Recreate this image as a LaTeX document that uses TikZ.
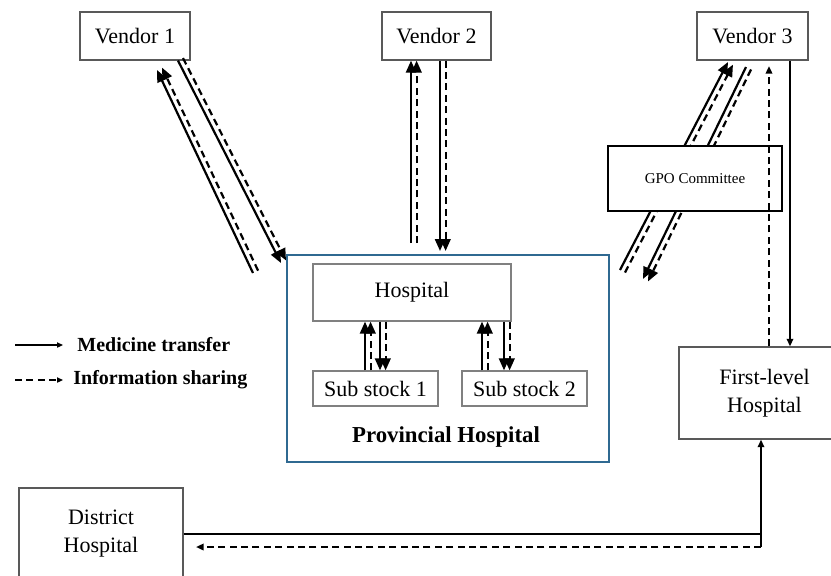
\documentclass[tikz,border=0pt]{standalone}
\usepackage{fontspec}
\setmainfont{Liberation Serif}
\usetikzlibrary{arrows.meta,calc}
\definecolor{provblue}{RGB}{47,105,145}
\newcommand\sepd{2.8pt}
\newcommand\uppair[2]{%
  \draw[med,bigtip] (#1) -- (#2);
  \draw[info,bigtip] ($(#1)!\sepd!-90:(#2)$) -- ($(#2)!\sepd!90:(#1)$);}
\newcommand\downpair[2]{%
  \draw[med,bigtip] (#1) -- (#2);
  \draw[info,bigtip] ($(#1)!\sepd!90:(#2)$) -- ($(#2)!\sepd!-90:(#1)$);}
\begin{document}
\begin{tikzpicture}[x=0.5pt,y=-0.5pt,
  med/.style={line width=1.1pt,black},
  info/.style={line width=1.1pt,black,dash pattern=on 3.5pt off 2.2pt},
  bigtip/.style={-{Triangle[length=6pt,width=5pt]}},
  midtip/.style={-{Triangle[length=3.8pt,width=3.2pt]}},
  smalltip/.style={-{Triangle[length=3pt,width=2.6pt]}},
  box/.style={draw=black!65,line width=0.6pt,fill=white,inner sep=0pt,align=center,
    font=\fontsize{11}{14}\selectfont},
  legend/.style={anchor=west,inner sep=0pt,font=\bfseries\fontsize{10}{12}\selectfont}]
\useasboundingbox (0,0) rectangle (831,575);

% nodes
\node[box,minimum width=55pt,minimum height=24pt] (v1) at (135,36) {Vendor 1};
\node[box,minimum width=54.5pt,minimum height=24pt] (v2) at (436.5,36) {Vendor 2};
\node[box,minimum width=55.5pt,minimum height=24pt] (v3) at (752.5,36) {Vendor 3};
\node[draw=provblue,line width=1.1pt,minimum width=161pt,minimum height=103.5pt,inner sep=0pt] (prov) at (448,358.5) {};
\node[box,draw=black!50,minimum width=99pt,minimum height=28.5pt] (hosp) at (412,292.5) {Hospital};
\node[box,draw=black!50,minimum width=62.5pt,minimum height=17.5pt] (ss1) at (375.5,388.5) {Sub stock 1};
\node[box,draw=black!50,minimum width=62.5pt,minimum height=17.5pt] (ss2) at (524.5,388.5) {Sub stock 2};
\node[font=\bfseries\fontsize{11.4}{13}\selectfont] (provlabel) at (446,437) {Provincial Hospital};
\node[box,minimum width=85.5pt,minimum height=46pt] (first) at (764.5,393) {First-level\\Hospital};
\node[box,minimum width=82pt,minimum height=46pt] (dist) at (101,534) {District\\Hospital};

% legend
\node[legend] (legmed) at (77,345) {Medicine transfer};
\node[legend] (leginfo) at (73,380) {Information sharing};
\coordinate (lm0) at (15,345);
\coordinate (li0) at (15,380);
\draw[med,smalltip] (lm0) -- ([xshift=-7pt]legmed.west);
\draw[info,smalltip] (li0) -- ([xshift=-5pt]leginfo.west);

% vendor 1
\coordinate (v1u0) at (253,273);
\coordinate (v1u1) at (157,70);
\uppair{v1u0}{v1u1}
\coordinate (v1d0) at ([xshift=21.5pt]v1.south);
\coordinate (v1d1) at (281,263);
\downpair{v1d0}{v1d1}

% vendor 2
\coordinate (v2u0) at (411,243);
\coordinate (v2u1) at ([xshift=-12.75pt]v2.south);
\uppair{v2u0}{v2u1}
\coordinate (v2d0) at ([xshift=1.75pt]v2.south);
\coordinate (v2d1) at (440,251);
\downpair{v2d0}{v2d1}

% vendor 3 <-> GPO
\coordinate (v3u0) at (620,270);
\coordinate (v3u1) at (728,62);
\uppair{v3u0}{v3u1}
\coordinate (v3d0) at (746,67);
\coordinate (v3d1) at (643,279);
\downpair{v3d0}{v3d1}
\node[box,draw=black,line width=1pt,minimum width=87pt,minimum height=32.5pt,
  font=\fontsize{7.5}{9}\selectfont] (gpo) at (695,178.5) {GPO Committee};

% vendor 3 <-> first-level
\coordinate (v3s0) at ([xshift=18.75pt]v3.south);
\draw[med,midtip] (v3s0) -- (v3s0 |- first.north);
\coordinate (v3i1) at (769,66);
\draw[info,midtip] (v3i1 |- first.north) -- (v3i1);

% sub stocks
\coordinate (s1u0) at ([xshift=-5.25pt]ss1.north);
\coordinate (s1u1) at (s1u0 |- hosp.south);
\uppair{s1u0}{s1u1}
\coordinate (s1x) at ([xshift=2.25pt]ss1.north);
\coordinate (s1d0) at (s1x |- hosp.south);
\downpair{s1d0}{s1x}
\coordinate (s2u0) at ([xshift=-21.25pt]ss2.north);
\coordinate (s2u1) at (s2u0 |- hosp.south);
\uppair{s2u0}{s2u1}
\coordinate (s2x) at ([xshift=-10.25pt]ss2.north);
\coordinate (s2d0) at (s2x |- hosp.south);
\downpair{s2d0}{s2x}

% district <-> first-level
\coordinate (turn) at (761,547);
\coordinate (dtip) at (196,547);
\draw[med] (dist.east) -- (dist.east -| turn);
\draw[med,midtip] (turn) -- (turn |- first.south);
\draw[info,midtip] (turn) -- (dtip);
\end{tikzpicture}
\end{document}
